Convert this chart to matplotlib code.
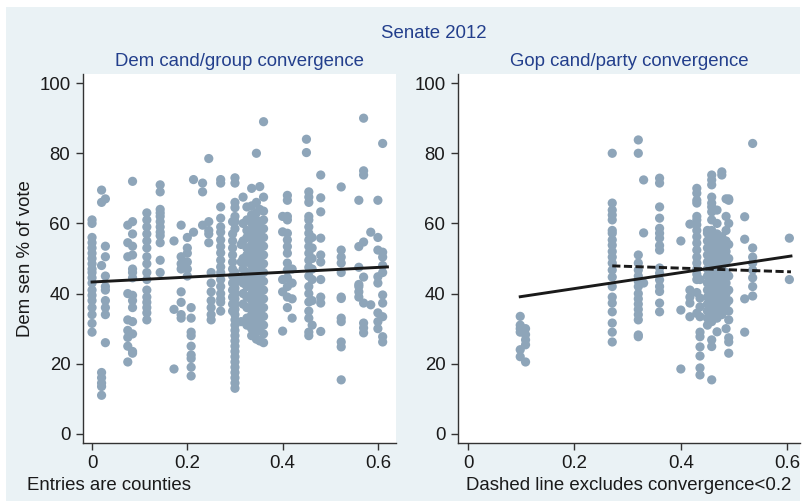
import matplotlib
matplotlib.use("Agg")
import matplotlib.pyplot as plt
import numpy as np

plt.rcParams['font.family'] = ['Liberation Sans', 'DejaVu Sans']

# ---------------- data ----------------
dem_x_cols = [0.000, 0.020, 0.028, 0.075, 0.085, 0.115, 0.143, 0.172, 0.187, 0.200,
              0.208, 0.213, 0.232, 0.245, 0.250, 0.270, 0.295, 0.300, 0.313, 0.317,
              0.325, 0.335, 0.345, 0.352, 0.360, 0.400, 0.410, 0.420, 0.450, 0.455,
              0.462, 0.480, 0.523, 0.560, 0.570, 0.585, 0.600, 0.610]
dem_y_cols = [
    [61, 60, 56, 54.5, 53, 51.5, 50, 48.5, 47, 46, 44.5, 43, 41, 39.5, 38, 36, 34, 31.5, 29],
    [69.5, 66, 48, 17.5, 16, 14.5, 13.5, 11],
    [67, 53.5, 50.5, 45, 42, 41, 38, 36, 34, 26],
    [59.5, 54.5, 50.5, 40, 32.5, 29.5, 27.5, 25, 20.5],
    [72, 60.5, 57, 53.5, 51, 47, 46, 44.5, 39.5, 38, 36, 32, 28.5, 23.5, 23],
    [63, 61, 59, 57, 55, 53, 50.5, 48.5, 46, 44, 41, 39, 37.5, 36, 34.5, 32.5],
    [71, 69, 64, 63, 62, 60.5, 59, 57.5, 56.5, 54.5, 49.5, 46],
    [55, 35.5, 18.5],
    [59.5, 50.5, 48.5, 47, 40.5, 37.5, 34, 33],
    [56, 53, 51.5, 49, 47, 45],
    [36, 33, 29, 28, 25, 22.5, 21.5, 19, 16.5],
    [72.5, 57.5],
    [71.5, 69, 59.5],
    [78.5, 60.5, 58, 57, 54.5],
    [46, 43, 40.5, 38, 36, 34, 32.5],
    [72.5, 71.5, 64.7, 61.5, 59, 57.5, 55.3, 53.4, 51.6, 49.5, 47.6, 46, 44, 42, 40, 38.5, 37.5, 35],
    [60.5, 57, 55, 53, 51, 49, 47, 45, 43, 41, 39, 37, 35],
    [73, 71.5, 66, 64.5, 62, 60.5, 58.5, 46, 44.5, 43, 41.5, 40, 38.5, 37, 35.5, 34, 32.5, 31,
     29.5, 28, 26.5, 25, 23.5, 22, 20.5, 19, 17.5, 16, 14.5, 13],
    [54, 49, 44, 32],
    [67.5, 60, 55, 50, 47, 43, 40, 37],
    [64.7, 61, 58, 56, 53, 51, 49, 46, 44, 42, 39, 36, 33, 31],
    [70, 65, 62.5, 60, 58, 56, 54, 52, 50, 48, 46, 44, 42, 40, 38, 36, 34, 32, 30, 28],
    [80, 66, 63, 61, 59, 57, 55, 53, 51, 49, 47, 45, 43, 41, 39, 37, 35, 33, 31, 29, 27],
    [70.5, 64, 60, 57, 54, 52, 50, 48, 46, 44, 42, 40, 38, 36, 34, 32, 30, 26.5],
    [89, 67.5, 63.5, 61, 58.5, 56, 53.5, 51, 48.5, 46, 43.5, 41, 38.5, 36, 33.5, 31, 28.5, 26],
    [62, 57.6, 44, 40.5, 29.3],
    [68, 66.6, 62, 61, 57.2, 55.3, 53.4, 51.5, 48.7, 46.7, 44.5, 42, 39, 36],
    [47, 43, 38.5, 33],
    [84, 80.2],
    [69, 67.5, 66, 62, 61, 59, 57.2, 55.3, 53.4, 51.5, 49.5, 47.5, 45, 42, 40, 37.6, 35, 33, 29, 28],
    [56, 53, 50, 47, 44, 38, 31],
    [73.8, 67.3, 63.3, 55.8, 51, 49, 44, 39, 37.3, 29.2],
    [70.4, 52.4, 50.4, 48.7, 46, 39, 38.6, 33, 32, 26.2, 24.8, 15.4],
    [66.6, 53.4, 47.5, 42.6, 42, 40.5, 39],
    [90, 75, 73.8, 54.7, 44.7, 37.3, 31.6, 30.2, 28.8],
    [57.5, 36.8],
    [66.6, 56, 52.4, 44.8, 43, 34.5, 32, 30],
    [82.8, 51.8, 50.4, 48, 46, 39.6, 37.3, 33.4, 27.7, 26.2],
]

gop_x_cols = [0.098, 0.108, 0.271, 0.320, 0.330, 0.360, 0.400, 0.417, 0.430, 0.436,
              0.450, 0.458, 0.468, 0.477, 0.485, 0.490, 0.520, 0.535, 0.604]
gop_y_cols = [
    [33.5, 31, 30, 29, 24, 22],
    [30, 28.3, 26.8, 25.4, 20.5],
    [80, 65.8, 63.8, 62.4, 61, 58, 57.2, 55.3, 53.8, 52, 50.4, 48.7, 46.7, 44.7, 42, 39, 37.3,
     34.8, 31.6, 29, 26.2],
    [83.8, 80, 51, 48.7, 46.7, 45, 43.5, 42, 40, 38.5, 37, 35.5, 34, 32.5, 28.2, 27.7],
    [72.4, 57.3, 43],
    [72.9, 71.5, 64.7, 61.5, 58.6, 57.2, 55.8, 53.7, 52.4, 47.3, 45.8, 43.9, 42, 40.6, 37.3, 34.8],
    [55, 35.3, 18.5],
    [59.8, 41, 39, 37.3, 33.4],
    [70, 68.6, 66.6, 65.8, 62, 61, 59.6, 58, 56.2, 54.4, 52.4, 50.4, 48.7, 47, 45.5, 44, 40.3, 34.4],
    [44, 38.7, 36.2, 33.4, 29, 27.7, 24.8, 22.2, 18.8, 16.8],
    [58, 57.2, 55, 53, 51, 49, 47, 45, 43, 41, 39, 37, 35, 33, 31],
    [73.8, 72.4, 71, 67.5, 65.8, 64.7, 63.3, 61, 58, 56, 54, 52, 50, 48, 46, 44, 42, 40, 38, 36,
     34, 32, 26.8, 24.9, 15.4],
    [63.8, 60, 57, 55, 53, 51, 49, 47, 45, 43, 41, 39, 37, 35, 33, 29.1],
    [74.7, 73.8, 56.2, 54, 52, 50, 48, 46, 44, 42, 40, 38, 36, 34],
    [67, 62, 58, 55, 52, 49, 46, 43, 40, 37, 30],
    [67, 66.6, 60, 54, 50, 45, 41, 38, 35, 32.5, 27.4, 26.2, 23],
    [61.9, 55.5, 38.5, 29],
    [82.8, 53, 50.4, 48.7, 46.7, 44.5, 42, 39.3],
    [55.8, 44],
]

# fitted lines (endpoints)
dem_fit_x = [0.0, 0.62]
dem_fit_y = [43.3, 47.6]
gop_fit_x = [0.098, 0.607]
gop_fit_y = [39.1, 50.7]
gop_fit2_x = [0.271, 0.607]
gop_fit2_y = [47.9, 46.2]

x_ticks = [0, 0.2, 0.4, 0.6]
x_tick_labels = ["0", "0.2", "0.4", "0.6"]
y_ticks = [0, 20, 40, 60, 80, 100]

title = "Senate 2012"
sub_left = "Dem cand/group convergence"
sub_right = "Gop cand/party convergence"
ylabel = "Dem sen % of vote"
note_left = "Entries are counties"
note_right = "Dashed line excludes convergence<0.2"

# ---------------- styling ----------------
W, H = 802, 501
BG = '#eaf2f5'
DOT = '#8ea5b9'
NAVY = '#233f8c'
TXT = '#1a1a1a'
FS = 13.4

fig = plt.figure(figsize=(W / 100, H / 100), dpi=100)
fig.patch.set_facecolor('white')
# light blue graph region (behind everything)
bg_rect = matplotlib.patches.Rectangle((6 / W, 0), (800 - 6) / W, 1 - 7 / H,
                                       transform=fig.transFigure, facecolor=BG,
                                       edgecolor='none', zorder=-10)
fig.add_artist(bg_rect)


def px_axes(x0, x1, y0, y1):
    return fig.add_axes([x0 / W, 1 - y1 / H, (x1 - x0) / W, (y1 - y0) / H])


def flatten(xc, yc):
    xs, ys = [], []
    for x, col in zip(xc, yc):
        xs.extend([x] * len(col))
        ys.extend(col)
    return np.array(xs), np.array(ys)


def style(ax, xlim):
    ax.set_facecolor('white')
    ax.set_xlim(*xlim)
    ax.set_ylim(-2.6, 102.6)
    ax.set_xticks(x_ticks)
    ax.set_xticklabels(x_tick_labels)
    ax.set_yticks(y_ticks)
    for s in ['top', 'right']:
        ax.spines[s].set_visible(False)
    for s in ['left', 'bottom']:
        ax.spines[s].set_color('#333333')
        ax.spines[s].set_linewidth(1.0)
    ax.tick_params(direction='out', length=5, width=1, color='#333333',
                   labelsize=FS, labelcolor=TXT, pad=4)


axL = px_axes(83, 396, 74, 443)
axR = px_axes(458, 800, 74, 443)

dx, dy = flatten(dem_x_cols, dem_y_cols)
gx, gy = flatten(gop_x_cols, gop_y_cols)

axL.scatter(dx, dy, s=44, color=DOT, edgecolors='none', zorder=2)
axL.plot(dem_fit_x, dem_fit_y, color='#1a1a1a', lw=2.1, zorder=3)
style(axL, (-0.019, 0.638))

axR.scatter(gx, gy, s=44, color=DOT, edgecolors='none', zorder=2)
axR.plot(gop_fit_x, gop_fit_y, color='#1a1a1a', lw=2.1, zorder=3)
axR.plot(gop_fit2_x, gop_fit2_y, color='#1a1a1a', lw=2.1, ls=(0, (2.8, 1.2)), zorder=3)
style(axR, (-0.019, 0.624))

fig.text(434 / W, 1 - 33 / H, title, ha='center', va='center', fontsize=FS, color=NAVY)
fig.text(239.5 / W, 1 - 62 / H, sub_left, ha='center', va='center', fontsize=FS, color=NAVY)
fig.text(629 / W, 1 - 62 / H, sub_right, ha='center', va='center', fontsize=FS, color=NAVY)
fig.text(26 / W, 1 - 259 / H, ylabel, ha='center', va='center', rotation=90,
         fontsize=FS, color=TXT)
fig.text(27 / W, 1 - 486 / H, note_left, ha='left', va='center', fontsize=FS, color=TXT)
fig.text(466 / W, 1 - 486 / H, note_right, ha='left', va='center', fontsize=FS, color=TXT)

fig.savefig('out.png', dpi=100, facecolor=fig.get_facecolor())
